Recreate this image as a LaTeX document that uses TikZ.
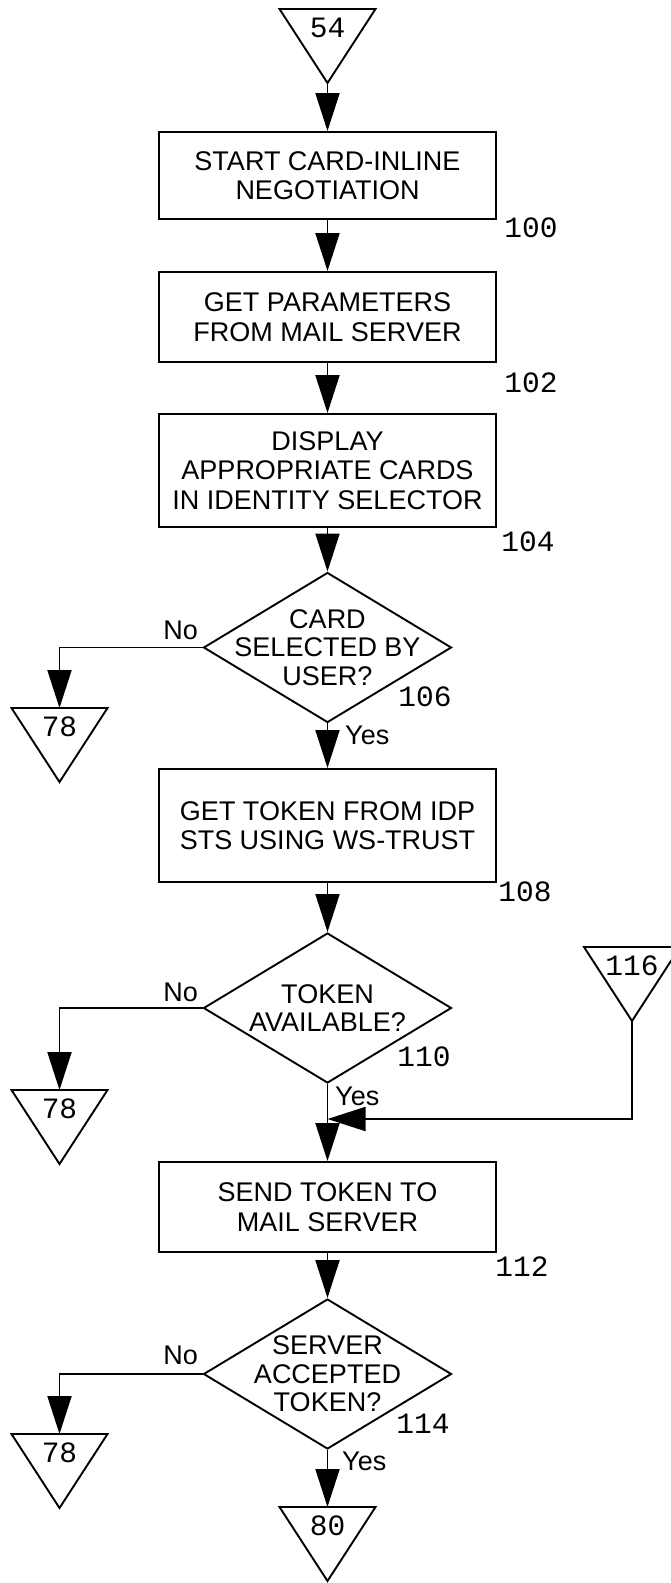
\documentclass[tikz,border=0pt]{standalone}
\usepackage{fontspec}
\setmainfont{Liberation Sans}
\newfontfamily\refnumfam{Liberation Mono}
\newcommand{\boxfont}{\fontsize{27}{29.5}\selectfont}
\newcommand{\refnumfont}{\refnumfam\fontsize{29.5}{30}\selectfont}
\usetikzlibrary{shapes.geometric,arrows.meta}
\tikzset{
  flow/.style={line width=1.9pt},
  arr/.style={flow,-{Triangle[length=38pt,width=24pt]}},
  box/.style={draw,flow,minimum width=337pt,inner sep=0pt,align=center,font=\boxfont},
  decision/.style={draw,flow,shape=diamond,minimum width=248pt,minimum height=150pt,inner sep=0pt},
  dtext/.style={align=center,inner sep=0pt,font=\fontsize{27}{28.5}\selectfont},
  refnum/.style={font=\refnumfont,inner sep=0pt},
  yesno/.style={font=\boxfont,inner sep=0pt}
}
\begin{document}
\begin{tikzpicture}[x=1pt,y=-1pt]
		\newcommand{\offref}[4]{%
			\draw[flow] (#2-48,#3) -- (#2+48,#3) -- (#2,#3+74) -- cycle;
			\coordinate (#1-in) at (#2,#3);
			\coordinate (#1-out) at (#2,#3+74);
			\node[refnum] (#1) at (#2,#3+19) {#4};}
		\useasboundingbox (0,0) rectangle (670,1583);
		\offref{t54}{327.5}{9}{54}
		\node[box,minimum height=87pt] (b100) at (327.5,175.5) {START CARD-INLINE\\NEGOTIATION};
		\node[box,minimum height=90pt] (b102) at (327.5,317) {GET PARAMETERS\\FROM MAIL SERVER};
		\node[box,minimum height=113pt] (b104) at (327.5,470.5) {DISPLAY\\APPROPRIATE CARDS\\IN IDENTITY SELECTOR};
		\node[decision,label={[dtext]center:CARD\\SELECTED BY\\USER?}] (d106) at (327.5,647.5) {};
		\node[box,minimum height=113pt] (b108) at (327.5,825.5) {GET TOKEN FROM IDP\\STS USING WS-TRUST};
		\node[decision,label={[dtext]center:TOKEN\\AVAILABLE?}] (d110) at (327.5,1008) {};
		\node[box,minimum height=90pt] (b112) at (327.5,1207) {SEND TOKEN TO\\MAIL SERVER};
		\node[decision,label={[dtext]center:SERVER\\ACCEPTED\\TOKEN?}] (d114) at (327.5,1374) {};
		\offref{t78a}{59.5}{708}{78}
		\offref{t78b}{59.5}{1090}{78}
		\offref{t78c}{59.5}{1434}{78}
		\offref{t80}{327.5}{1507}{80}
		\offref{t116}{632}{947}{116}
		\coordinate (join116) at (327.5,1119);
		% reference numerals
		\node[refnum] (n100) at (531,228) {100};
		\node[refnum] (n102) at (531,383) {102};
		\node[refnum] (n104) at (528,542) {104};
		\node[refnum] (n106) at (425,697) {106};
		\node[refnum] (n108) at (525,892) {108};
		\node[refnum] (n110) at (424,1057) {110};
		\node[refnum] (n112) at (522,1267) {112};
		\node[refnum] (n114) at (423,1424) {114};
		% branch labels
		\node[yesno,anchor=south east] (no106) at (198,640) {No};
		\node[yesno,anchor=north west] (yes106) at (345,726) {Yes};
		\node[yesno,anchor=south east] (no110) at (198,1002) {No};
		\node[yesno,anchor=north west] (yes110) at (335,1087) {Yes};
		\node[yesno,anchor=south east] (no114) at (198,1365) {No};
		\node[yesno,anchor=north west] (yes114) at (342,1452) {Yes};
		% flow
		\draw[arr] (t54-out) -- (b100.north);
		\draw[arr] (b100) -- (b102);
		\draw[arr] (b102) -- (b104);
		\draw[arr] (b104) -- (d106);
		\draw[arr] (d106) -- (b108);
		\draw[arr] (d106.west) -| (t78a-in);
		\draw[arr] (b108) -- (d110);
		\draw[arr] (d110.west) -| (t78b-in);
		\draw[arr] (d110) -- (b112);
		\draw[arr] (t116-out) |- (join116);
		\draw[arr] (b112) -- (d114);
		\draw[arr] (d114.west) -| (t78c-in);
		\draw[arr] (d114) -- (t80-in);
\end{tikzpicture}
\end{document}
